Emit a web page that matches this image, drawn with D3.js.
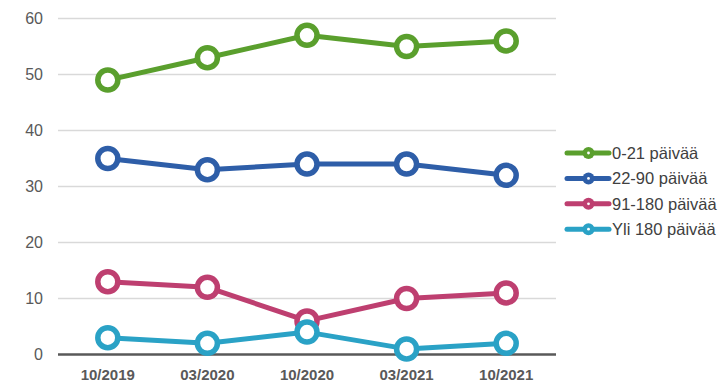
<!DOCTYPE html>
<html><head><meta charset="utf-8">
<script src="https://cdn.jsdelivr.net/npm/d3@7"></script>
<style>body{margin:0;background:#fff;} svg{display:block;}</style>
</head><body>
<svg id="c" width="728" height="384"></svg>
<script>
const categories = ["10/2019","03/2020","10/2020","03/2021","10/2021"];
const seriesNames = ["0-21 päivää","22-90 päivää","91-180 päivää","Yli 180 päivää"];
const s0 = [49,53,57,55,56];
const s1 = [35,33,34,34,32];
const s2 = [13,12,6,10,11];
const s3 = [3,2,4,1,2];
const yTicks = [0,10,20,30,40,50,60];
const colors = ["#5a9f2d","#2e5ea8","#be3f70","#2aa2c6"];
const seriesValues = [s0,s1,s2,s3];

const svg = d3.select("#c");
const x = d3.scaleBand().domain(categories).range([58,556]);
const y = d3.scaleLinear().domain([0,60]).range([354.5,18.5]);

svg.append("g").selectAll("line").data(yTicks.filter(d=>d>0)).join("line")
  .attr("x1",58).attr("x2",556).attr("y1",d=>y(d)).attr("y2",d=>y(d))
  .attr("stroke","#d9d9d9").attr("stroke-width",1.5);

svg.append("g").selectAll("text").data(yTicks).join("text")
  .attr("x",43).attr("y",d=>y(d)+5.5).attr("text-anchor","end")
  .attr("font-family","Liberation Sans, Arial, sans-serif").attr("font-size",16).attr("fill","#595959")
  .text(d=>d);

svg.append("line").attr("x1",58).attr("x2",556).attr("y1",y(0)).attr("y2",y(0))
  .attr("stroke","#595959").attr("stroke-width",2.5);

svg.append("g").selectAll("text").data(categories).join("text")
  .attr("x",d=>x(d)+x.bandwidth()/2).attr("y",380).attr("text-anchor","middle")
  .attr("font-family","Liberation Sans, Arial, sans-serif").attr("font-size",15).attr("font-weight","bold").attr("fill","#595959")
  .text(d=>d);

const line = d3.line().x((d,i)=>x(categories[i])+x.bandwidth()/2).y(d=>y(d));
seriesValues.forEach((vals,k)=>{
  const g = svg.append("g");
  g.append("path").attr("d",line(vals)).attr("fill","none").attr("stroke",colors[k]).attr("stroke-width",5).attr("stroke-linejoin","round");
  g.selectAll("circle").data(vals).join("circle")
    .attr("cx",(d,i)=>x(categories[i])+x.bandwidth()/2).attr("cy",d=>y(d)).attr("r",10)
    .attr("fill","#fff").attr("stroke",colors[k]).attr("stroke-width",5.5);
});

const leg = svg.append("g");
seriesNames.forEach((n,k)=>{
  const yy = 153 + k*25.4;
  leg.append("line").attr("x1",567).attr("x2",609).attr("y1",yy).attr("y2",yy).attr("stroke",colors[k]).attr("stroke-width",5).attr("stroke-linecap","round");
  leg.append("circle").attr("cx",588.5).attr("cy",yy).attr("r",6).attr("fill",colors[k]);
  leg.append("circle").attr("cx",588.5).attr("cy",yy).attr("r",1.4).attr("fill","#fff");
  leg.append("text").attr("x",612).attr("y",yy+6).attr("font-family","Liberation Sans, Arial, sans-serif").attr("font-size",16.5).attr("fill","#404040").text(n);
});
</script>
</body></html>
